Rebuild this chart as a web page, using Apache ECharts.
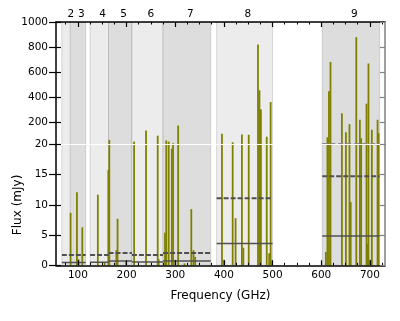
<!DOCTYPE html>
<html>
<head>
<meta charset="utf-8">
<script src="https://cdn.jsdelivr.net/npm/echarts@6/dist/echarts.min.js"></script>
<style>
  html, body { margin: 0; padding: 0; background: #fff; }
  #chart { width: 400px; height: 321px; }
</style>
</head>
<body>
<div id="chart"></div>
<script>
// line frequencies (GHz) and peak flux (mJy)
const freqs = [85, 98, 101, 109, 141, 155, 162.5, 164.5, 179, 181.5,
  199, 215.5, 240, 264, 266, 279, 281.5, 286.5, 293, 295.5,
  300, 306, 319, 333, 337.5, 341, 396, 400, 418, 424,
  437, 440, 451, 470, 473, 476, 488, 493, 496, 499,
  609.5, 612.7, 615.8, 619, 642.4, 650.7, 658, 660.5, 672, 679.4,
  682, 693, 695, 697, 700, 704, 715.7, 717.8];
const fluxes = [8.7, 12.1, 1.0, 6.3, 11.7, 0.5, 15.8, 57, 2.5, 7.7,
  0.7, 43, 132, 91, 1.0, 5.4, 52, 43, 19.3, 30,
  0.9, 172, 0.3, 9.3, 2.5, 1.4, 106, 0.9, 38, 7.8,
  100, 2.9, 98, 821, 454, 301, 82, 2.0, 360, 0.8,
  2.2, 78, 446, 681, 269, 119, 183, 10.5, 879, 218,
  70, 347, 3.6, 668, 0.9, 138, 218, 111];

// receiver bands
const bandNames = ['2', '3', '4', '5', '6', '7', '8', '9'];
const bandLow = [67, 84, 125, 163, 211, 275, 385, 602];
const bandHigh = [90, 116, 163, 211, 275, 373, 500, 720];

// sensitivity levels (mJy)
const sensLow = [67, 125, 163, 211, 275, 385, 602];
const sensHigh = [116, 163, 211, 275, 373, 500, 720];
const sensDashed = [1.7, 1.7, 2.05, 1.7, 2.05, 11.1, 14.75];
const sensSolid = [0.45, 0.5, 0.7, 0.55, 0.7, 3.6, 4.85];
const band9Upper = 28;

const xTicks = [100, 200, 300, 400, 500, 600, 700];
const lowTicks = [0, 5, 10, 15, 20];
const highTicks = [200, 400, 600, 800, 1000];

const X_MIN = 55, X_MAX = 731;
const LOW_MAX = 20, HIGH_MAX = 1000;
const font = 'DejaVu Sans';

const minorTicks = [];
for (let v = 75; v < X_MAX; v += 25) if (v % 100) minorTicks.push(v);
const bandCenters = bandLow.map((lo, i) => (lo + bandHigh[i]) / 2);

const chart = echarts.init(document.getElementById('chart'));

function xAx(grid, pos, extra) {
  return Object.assign({
    type: 'value', gridIndex: grid, position: pos, min: X_MIN, max: X_MAX, z: 10,
    axisLine: { show: false }, axisTick: { show: false }, axisLabel: { show: false },
    splitLine: { show: false }
  }, extra);
}
function yAx(grid, pos, lo, hi, extra) {
  return Object.assign({
    type: 'value', gridIndex: grid, position: pos, min: lo, max: hi, z: 11,
    axisLine: { show: false }, axisTick: { show: false }, axisLabel: { show: false },
    splitLine: { show: false }
  }, extra);
}
const blackLine = { show: true, onZero: false, lineStyle: { color: '#000', width: 1.5 } };
const grayLine = { show: true, onZero: false, lineStyle: { color: '#808080', width: 1.5 } };
const labelStyle = { show: true, color: '#000', fontSize: 10.5, fontFamily: font, formatter: v => String(v) };

function bandSeries(xi, yi, yMin, yMax) {
  return {
    type: 'custom', xAxisIndex: xi, yAxisIndex: yi, z: 1, silent: true, clip: true,
    data: bandLow.map((lo, i) => [lo, bandHigh[i], i]),
    encode: { x: [0, 1] },
    renderItem: function (params, api) {
      const p0 = api.coord([api.value(0), yMax]);
      const p1 = api.coord([api.value(1), yMin]);
      return {
        type: 'rect',
        shape: { x: p0[0], y: p0[1], width: p1[0] - p0[0], height: p1[1] - p0[1] },
        style: { fill: api.value(2) % 2 ? '#dddddd' : '#ececec', stroke: 'rgba(0,0,0,0.13)', lineWidth: 1 }
      };
    }
  };
}

const barData = freqs.map((f, i) => [f, fluxes[i]]);
function barSeries(xi, yi) {
  return {
    type: 'bar', xAxisIndex: xi, yAxisIndex: yi, data: barData, barWidth: 1.8,
    clip: true, z: 2, silent: true, itemStyle: { color: '#808000' }
  };
}

const series = [
  bandSeries(0, 0, 0, LOW_MAX),
  bandSeries(2, 3, LOW_MAX, HIGH_MAX),
  barSeries(0, 0),
  barSeries(2, 3)
];
sensLow.forEach((lo, i) => {
  series.push({
    type: 'line', xAxisIndex: 0, yAxisIndex: 0, z: 3, silent: true, symbol: 'none',
    data: [[lo, sensDashed[i]], [sensHigh[i], sensDashed[i]]],
    lineStyle: { color: '#505050', width: 2, type: [5, 2] }
  });
  series.push({
    type: 'line', xAxisIndex: 0, yAxisIndex: 0, z: 3, silent: true, symbol: 'none',
    data: [[lo, sensSolid[i]], [sensHigh[i], sensSolid[i]]],
    lineStyle: { color: '#505050', width: 1.5 }
  });
});
series.push({
  type: 'line', xAxisIndex: 2, yAxisIndex: 3, z: 3, silent: true, symbol: 'none',
  data: [[sensLow[6], band9Upper], [sensHigh[6], band9Upper]],
  lineStyle: { color: '#8a8a8a', width: 1, type: [5, 3] }
});

chart.setOption({
  animation: false,
  backgroundColor: '#fff',
  grid: [
    { left: 56, right: 15, top: 144.5, bottom: 55.7, outerBoundsMode: 'none' },
    { left: 56, right: 15, top: 22, height: 122.5, outerBoundsMode: 'none' }
  ],
  xAxis: [
    // 0: lower grid, bottom, major ticks and labels
    xAx(0, 'bottom', {
      axisLine: blackLine,
      axisTick: { show: true, inside: true, length: 5, customValues: xTicks, lineStyle: { color: '#000', width: 1.2 } },
      axisLabel: Object.assign({ margin: 4, customValues: xTicks }, labelStyle),
      name: 'Frequency (GHz)', nameLocation: 'middle', nameGap: 25,
      nameTextStyle: { color: '#000', fontSize: 12, fontFamily: font }
    }),
    // 1: lower grid, bottom, minor ticks
    xAx(0, 'bottom', {
      axisTick: { show: true, inside: true, length: 2.5, customValues: minorTicks, lineStyle: { color: '#000', width: 1 } }
    }),
    // 2: upper grid, top, major ticks
    xAx(1, 'top', {
      axisLine: blackLine,
      axisTick: { show: true, inside: true, length: 5, customValues: xTicks, lineStyle: { color: '#000', width: 1.2 } }
    }),
    // 3: upper grid, top, minor ticks
    xAx(1, 'top', {
      axisTick: { show: true, inside: true, length: 2.5, customValues: minorTicks, lineStyle: { color: '#000', width: 1 } }
    }),
    // 4: upper grid, top, band names
    xAx(1, 'top', {
      axisLabel: Object.assign({}, labelStyle, { margin: 2, align: 'left', customValues: bandCenters,
        formatter: v => bandNames[bandCenters.indexOf(v)] })
    }),
    // 5: break line between the panels
    xAx(1, 'bottom', {
      axisLine: { show: true, onZero: false, lineStyle: { color: '#fff', width: 1.2 } }
    })
  ],
  yAxis: [
    // 0: lower left
    yAx(0, 'left', 0, LOW_MAX, {
      interval: 5,
      axisLine: blackLine,
      axisTick: { show: true, inside: false, length: 7, lineStyle: { color: '#000', width: 1.2 } },
      axisLabel: Object.assign({ margin: 8, customValues: lowTicks }, labelStyle),
      name: 'Flux (mJy)', nameLocation: 'middle', nameRotate: 90, nameGap: 29,
      nameTextStyle: { color: '#000', fontSize: 12, fontFamily: font }
    }),
    // 1: lower left inner ticks
    yAx(0, 'left', 0, LOW_MAX, {
      interval: 5,
      axisTick: { show: true, inside: true, length: 5, lineStyle: { color: '#000', width: 1.2 } }
    }),
    // 2: lower right
    yAx(0, 'right', 0, LOW_MAX, {
      interval: 5,
      axisLine: grayLine,
      axisTick: { show: true, inside: true, length: 5, lineStyle: { color: '#808080', width: 1.2 } }
    }),
    // 3: upper left
    yAx(1, 'left', LOW_MAX, HIGH_MAX, {
      axisLine: blackLine,
      axisTick: { show: true, inside: false, length: 7, customValues: highTicks, lineStyle: { color: '#000', width: 1.2 } },
      axisLabel: Object.assign({ margin: 8, customValues: highTicks }, labelStyle)
    }),
    // 4: upper left inner ticks
    yAx(1, 'left', LOW_MAX, HIGH_MAX, {
      axisTick: { show: true, inside: true, length: 5, customValues: highTicks, lineStyle: { color: '#000', width: 1.2 } }
    }),
    // 5: upper right
    yAx(1, 'right', LOW_MAX, HIGH_MAX, {
      axisLine: grayLine,
      axisTick: { show: true, inside: true, length: 5, customValues: highTicks, lineStyle: { color: '#808080', width: 1.2 } }
    })
  ],
  series: series
});
</script>
</body>
</html>
